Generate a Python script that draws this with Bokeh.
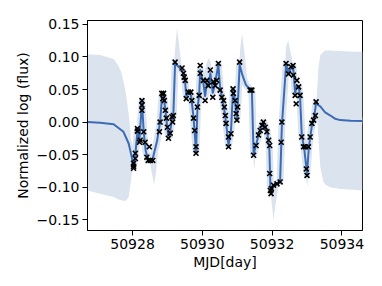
from bokeh.plotting import figure
from bokeh.models import Range1d, FixedTicker
from bokeh.embed import file_html
from bokeh.resources import INLINE

# ---- observed data points (MJD, normalized log flux) ----
obs_x = [50928.03, 50928.03, 50928.03, 50928.08, 50928.08, 50928.14, 50928.14, 50928.20, 50928.22,
         50928.27, 50928.27, 50928.27, 50928.32, 50928.36, 50928.41, 50928.45, 50928.48, 50928.51,
         50928.58, 50928.77, 50928.79, 50928.84, 50928.87, 50928.89, 50928.91, 50928.94, 50928.97,
         50929.00, 50929.03, 50929.08, 50929.13, 50929.15, 50929.17, 50929.22, 50929.42, 50929.46,
         50929.48, 50929.51, 50929.54, 50929.60, 50929.67, 50929.70, 50929.75, 50929.78, 50929.82,
         50929.82, 50929.86, 50929.91, 50929.94, 50929.94, 50930.03, 50930.08, 50930.13, 50930.17,
         50930.23, 50930.30, 50930.32, 50930.37, 50930.41, 50930.46, 50930.51, 50930.56, 50930.61,
         50930.63, 50930.66, 50930.68, 50930.75, 50930.75, 50930.82, 50930.88, 50930.89, 50930.94,
         50930.97, 50930.99, 50931.01, 50931.07, 50931.37, 50931.42, 50931.47, 50931.54, 50931.61,
         50931.66, 50931.71, 50931.75, 50931.80, 50931.85, 50931.90, 50931.93, 50931.93, 50931.95,
         50931.97, 50931.98, 50932.04, 50932.14, 50932.23, 50932.26, 50932.28, 50932.40, 50932.47,
         50932.54, 50932.60, 50932.61, 50932.66, 50932.69, 50932.71, 50932.76, 50932.80, 50932.85,
         50932.90, 50932.95, 50932.98, 50933.00, 50933.04, 50933.09, 50933.14, 50933.19, 50933.24,
         50933.26]
obs_y = [-0.0635, -0.071, -0.068, -0.048, -0.056, -0.010, -0.014, -0.031, -0.028,
         0.033, 0.026, 0.018, -0.015, -0.031, -0.054, -0.059, -0.038, -0.059,
         -0.059, -0.015, 0.000, 0.044, 0.036, 0.044, 0.033, 0.018, 0.006,
         -0.008, -0.025, -0.017, 0.008, 0.000, 0.010, 0.092, 0.083, 0.075,
         0.069, 0.064, 0.036, 0.046, 0.046, 0.033, 0.006, -0.013, -0.038,
         -0.048, 0.023, 0.041, 0.075, 0.087, 0.064, 0.033, 0.064, 0.056,
         0.080, 0.038, 0.062, 0.056, 0.064, 0.090, 0.049, 0.038, 0.033,
         0.023, 0.010, -0.002, -0.023, -0.038, -0.018, 0.051, 0.044, 0.033,
         0.013, 0.003, 0.023, 0.092, 0.049, 0.049, -0.051, -0.036, -0.020,
         -0.013, -0.005, 0.000, -0.008, -0.015, -0.028, -0.036, -0.079, -0.105,
         -0.110, -0.102, -0.097, -0.095, -0.092, -0.031, 0.000, 0.090, 0.074,
         0.085, 0.087, 0.072, 0.041, 0.028, 0.064, 0.054, 0.041, -0.023,
         -0.038, -0.038, -0.072, -0.082, -0.038, -0.023, -0.002, 0.003, 0.010,
         0.031]

# ---- predictive mean curve ----
mean_x = [50926.71, 50927.07, 50927.46, 50927.74, 50927.89, 50927.98, 50928.03,
          50928.08, 50928.14, 50928.20, 50928.27, 50928.32, 50928.38, 50928.45, 50928.52,
          50928.58, 50928.70, 50928.79, 50928.85, 50928.89, 50928.95, 50929.02, 50929.06,
          50929.13, 50929.17, 50929.22, 50929.42, 50929.50, 50929.54, 50929.62, 50929.68,
          50929.75, 50929.82, 50929.86, 50929.91, 50929.94, 50930.03, 50930.08, 50930.13,
          50930.18, 50930.23, 50930.30, 50930.36, 50930.46, 50930.51, 50930.58, 50930.65,
          50930.70, 50930.75, 50930.82, 50930.88, 50930.93, 50930.99, 50931.02, 50931.07,
          50931.15, 50931.25, 50931.37, 50931.42, 50931.47, 50931.55, 50931.65, 50931.75,
          50931.85, 50931.92, 50931.95, 50931.98, 50932.05, 50932.15, 50932.23, 50932.28,
          50932.40, 50932.47, 50932.54, 50932.60, 50932.66, 50932.70, 50932.76, 50932.80,
          50932.85, 50932.92, 50933.00, 50933.05, 50933.10, 50933.15, 50933.20, 50933.26,
          50933.30, 50933.38, 50933.52, 50933.67, 50933.81, 50933.95, 50934.25, 50934.59]
mean_y = [0.000, -0.001, -0.0035, -0.015, -0.033, -0.054, -0.068,
          -0.050, -0.015, -0.028, 0.032, -0.015, -0.045, -0.058, -0.058,
          -0.056, -0.030, 0.000, 0.042, 0.040, 0.015, -0.020, -0.022,
          0.005, 0.012, 0.090, 0.080, 0.066, 0.040, 0.046, 0.040,
          0.006, -0.045, 0.020, 0.042, 0.080, 0.060, 0.040, 0.060,
          0.055, 0.075, 0.045, 0.058, 0.088, 0.052, 0.035, 0.012,
          -0.010, -0.035, -0.015, 0.048, 0.036, 0.005, 0.030, 0.088,
          0.072, 0.057, 0.050, 0.048, -0.050, -0.033, -0.012, 0.000,
          -0.012, -0.040, -0.098, -0.106, -0.097, -0.094, -0.090, -0.005,
          0.088, 0.076, 0.082, 0.085, 0.045, 0.055, 0.055, 0.040,
          -0.020, -0.040, -0.080, -0.040, -0.020, -0.002, 0.005, 0.030,
          0.027, 0.024, 0.015, 0.010, 0.005, 0.003, 0.002, 0.0015]

# ---- uncertainty band: wide regions before / after the observations ----
left_x = [50926.71, 50927.07, 50927.46, 50927.60, 50927.68, 50927.76, 50927.79, 50927.84,
          50927.89, 50927.93, 50927.98, 50928.02]
left_hi = [0.104, 0.103, 0.097, 0.086, 0.076, 0.058, 0.050, 0.033, 0.012, -0.010, -0.045, -0.062]
left_lo = [-0.105, -0.110, -0.115, -0.119, -0.120, -0.121, -0.1215, -0.119, -0.115, -0.100,
           -0.079, -0.072]

right_x = [50933.26, 50933.28, 50933.33, 50933.38, 50933.47, 50933.52, 50933.66, 50933.95,
           50934.33, 50934.59]
right_hi = [0.032, 0.040, 0.085, 0.103, 0.108, 0.110, 0.110, 0.109, 0.108, 0.108]
right_lo = [0.028, 0.016, -0.028, -0.069, -0.092, -0.096, -0.100, -0.103, -0.104, -0.105]

# ---- band bulges in the gaps between observations ----
gaps = [
    ([50928.32, 50928.36, 50928.40], [-0.030, -0.069, -0.058], [-0.012, -0.030, -0.050]),
    ([50928.50, 50928.56, 50928.62, 50928.68, 50928.74],
     [-0.062, -0.080, -0.096, -0.075, -0.040], [-0.054, -0.052, -0.048, -0.038, -0.020]),
    ([50929.20, 50929.24, 50929.28, 50929.33, 50929.40],
     [0.085, 0.082, 0.079, 0.076, 0.078], [0.098, 0.125, 0.144, 0.120, 0.088]),
    ([50930.05, 50930.12, 50930.18, 50930.24, 50930.28],
     [0.035, 0.050, 0.050, 0.065, 0.045], [0.075, 0.090, 0.098, 0.092, 0.070]),
    ([50931.03, 50931.09, 50931.14, 50931.20, 50931.28],
     [0.040, 0.080, 0.072, 0.058, 0.050], [0.070, 0.115, 0.136, 0.110, 0.070]),
    ([50931.45, 50931.49, 50931.53], [-0.045, -0.074, -0.045], [-0.035, -0.045, -0.030]),
    ([50931.93, 50931.98, 50932.04, 50932.10, 50932.18],
     [-0.085, -0.120, -0.151, -0.125, -0.100], [-0.040, -0.098, -0.092, -0.090, -0.088]),
    ([50932.34, 50932.40, 50932.46, 50932.52, 50932.58],
     [0.040, 0.082, 0.070, 0.075, 0.080], [0.060, 0.115, 0.126, 0.110, 0.095]),
    ([50932.93, 50932.97, 50933.01, 50933.06],
     [-0.050, -0.085, -0.100, -0.055], [-0.035, -0.065, -0.070, -0.035]),
]

x_ticks = [50928, 50930, 50932, 50934]
y_ticks = [-0.15, -0.10, -0.05, 0.00, 0.05, 0.10, 0.15]
y_tick_labels = ["\u22120.15", "\u22120.10", "\u22120.05", "0.00", "0.05", "0.10", "0.15"]

BAND = "#dbe3ef"
LINE = "#3b6cb3"
FONT = "DejaVu Sans"

p = figure(width=374, height=278, output_backend="svg", toolbar_location=None,
           x_range=Range1d(50926.71, 50934.59), y_range=Range1d(-0.1666, 0.156),
           min_border_left=87, min_border_right=12, min_border_top=20, min_border_bottom=48)

p.varea(x=left_x, y1=left_lo, y2=left_hi, color=BAND)
p.varea(x=right_x, y1=right_lo, y2=right_hi, color=BAND)
for gx, glo, ghi in gaps:
    p.varea(x=gx, y1=glo, y2=ghi, color=BAND)
p.line(mean_x, mean_y, line_width=7, color=BAND, line_join="round")
p.line(mean_x, mean_y, line_width=2, color=LINE, line_join="round")
p.scatter(obs_x, obs_y, marker="x", size=7, line_width=1.6, color="black")

p.grid.visible = False
p.outline_line_color = "black"
p.outline_line_width = 1

p.xaxis.ticker = FixedTicker(ticks=x_ticks)
p.xaxis.major_label_overrides = {t: str(t) for t in x_ticks}
p.yaxis.ticker = FixedTicker(ticks=y_ticks)
p.yaxis.major_label_overrides = dict(zip(y_ticks, y_tick_labels))

p.xaxis.axis_label = "MJD[day]"
p.yaxis.axis_label = "Normalized log (flux)"
for ax in (p.xaxis[0], p.yaxis[0]):
    ax.axis_label_text_font = FONT
    ax.axis_label_text_font_size = "14px"
    ax.axis_label_text_font_style = "normal"
    ax.axis_label_text_color = "black"
    ax.major_label_text_font = FONT
    ax.major_label_text_font_size = "14px"
    ax.major_label_text_color = "black"
    ax.major_tick_in = 0
    ax.major_tick_out = 5
    ax.minor_tick_line_color = None
    ax.major_tick_line_color = "black"
    ax.axis_line_color = "black"
    ax.major_label_standoff = 3
p.xaxis.axis_label_standoff = 2
p.yaxis.axis_label_standoff = 3

open("out.html", "w").write(file_html(p, INLINE))
